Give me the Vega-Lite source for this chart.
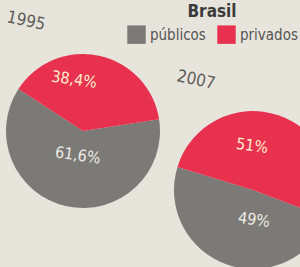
{
  "$schema": "https://vega.github.io/schema/vega-lite/v6.json",
  "width": 300,
  "height": 267,
  "padding": 0,
  "autosize": {"type": "none"},
  "background": "#e7e4dc",
  "config": {"view": {"stroke": null}, "font": "DejaVu Sans Condensed"},
  "data": {
    "values": [
      {"year": "1995", "tipo": "públicos", "pct": 61.6, "label": "61,6%"},
      {"year": "1995", "tipo": "privados", "pct": 38.4, "label": "38,4%"},
      {"year": "2007", "tipo": "públicos", "pct": 49, "label": "49%"},
      {"year": "2007", "tipo": "privados", "pct": 51, "label": "51%"}
    ]
  },
  "encoding": {
    "x": {"field": "year", "type": "nominal", "scale": {"type": "point", "domain": ["1995", "2007"], "range": [83, 253], "padding": 0}, "axis": null},
    "y": {"field": "year", "type": "nominal", "scale": {"type": "point", "domain": ["1995", "2007"], "range": [131, 190], "padding": 0}, "axis": null}
  },
  "layer": [
    {
      "transform": [{"filter": "datum.year == '1995'"}],
      "encoding": {
        "theta": {"field": "pct", "type": "quantitative", "stack": true, "scale": {"domain": [0, 100], "range": [-0.995, 5.288]}},
        "order": {"field": "tipo", "sort": "ascending"}
      },
      "layer": [
        {
          "mark": {"type": "arc", "outerRadius": 77},
          "encoding": {
            "color": {
              "field": "tipo", "type": "nominal",
              "scale": {"domain": ["públicos", "privados"], "range": ["#7c7a76", "#e8304f"]},
              "legend": {"orient": "none", "legendX": 127, "legendY": 4, "direction": "horizontal", "title": "Brasil", "titleFontSize": 17, "titleFontWeight": "bold", "titleColor": "#3a3a3a", "titleAnchor": "middle", "titlePadding": 4, "symbolType": "square", "symbolSize": 340, "symbolStrokeWidth": 0, "symbolOpacity": 1, "labelFontSize": 15, "labelColor": "#555555", "labelFont": "DejaVu Sans Condensed", "columnPadding": 11, "labelOffset": 4}
            }
          }
        },
        {
          "mark": {"type": "text", "radius": 52, "thetaOffset": -0.384, "fontSize": 16, "angle": 8, "fill": "#fbeccb"},
          "encoding": {"detail": {"field": "tipo"}, "text": {"condition": {"test": "datum.tipo == 'privados'", "field": "label"}, "value": ""}}
        },
        {
          "mark": {"type": "text", "radius": 25, "fontSize": 16, "angle": 8, "fill": "#ecebe5"},
          "encoding": {"detail": {"field": "tipo"}, "text": {"condition": {"test": "datum.tipo == 'públicos'", "field": "label"}, "value": ""}}
        }
      ]
    },
    {
      "transform": [{"filter": "datum.year == '2007'"}],
      "encoding": {
        "theta": {"field": "pct", "type": "quantitative", "stack": true, "scale": {"domain": [0, 100], "range": [-1.274, 5.009]}},
        "order": {"field": "tipo", "sort": "ascending"}
      },
      "layer": [
        {
          "mark": {"type": "arc", "outerRadius": 79},
          "encoding": {
            "color": {"field": "tipo", "type": "nominal", "scale": {"domain": ["públicos", "privados"], "range": ["#7c7a76", "#e8304f"]}}
          }
        },
        {
          "mark": {"type": "text", "radius": 44, "thetaOffset": -0.35, "fontSize": 16, "angle": 8, "fill": "#fbeccb"},
          "encoding": {"detail": {"field": "tipo"}, "text": {"condition": {"test": "datum.tipo == 'privados'", "field": "label"}, "value": ""}}
        },
        {
          "mark": {"type": "text", "radius": 30, "thetaOffset": -0.36, "fontSize": 16, "angle": 8, "fill": "#ecebe5"},
          "encoding": {"detail": {"field": "tipo"}, "text": {"condition": {"test": "datum.tipo == 'públicos'", "field": "label"}, "value": ""}}
        }
      ]
    },
    {
      "mark": {"type": "text", "dx": -78.6, "dy": -95.7, "fontSize": 17, "angle": 12, "fill": "#5d5c58"},
      "encoding": {"text": {"condition": {"test": "datum.tipo == 'privados'", "field": "year"}, "value": ""}}
    }
  ],
  "resolve": {"scale": {"theta": "independent"}}
}
